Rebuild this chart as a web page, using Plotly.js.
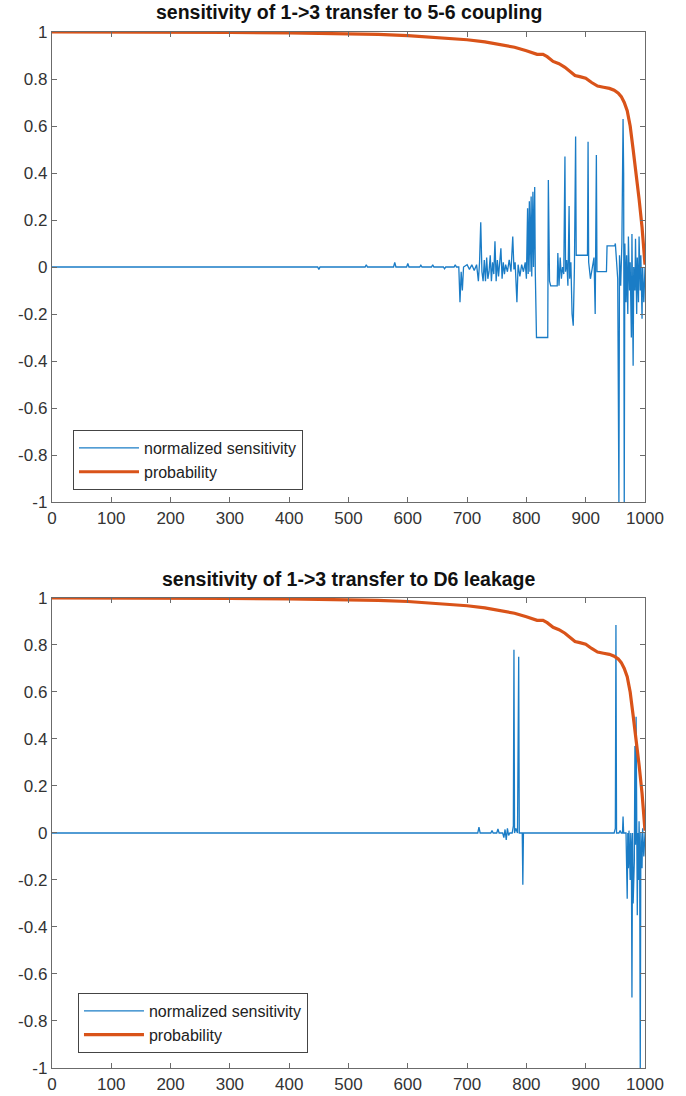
<!DOCTYPE html>
<html>
<head>
<meta charset="utf-8">
<script src="https://cdn.plot.ly/plotly-3.0.1.min.js"></script>
<style>html,body{margin:0;padding:0;background:#fff;}#chart{width:686px;height:1096px;}</style>
</head>
<body>
<div id="chart"></div>
<script>
// ---- data ----
const titleTop = 'sensitivity of 1-&gt;3 transfer to 5-6 coupling';
const titleBottom = 'sensitivity of 1-&gt;3 transfer to D6 leakage';
const seriesNames = ['normalized sensitivity', 'probability'];

const xTicks = [0,100,200,300,400,500,600,700,800,900,1000];
const xTickLabels = ['0','100','200','300','400','500','600','700','800','900','1000'];
const yTicks = [-1,-0.8,-0.6,-0.4,-0.2,0,0.2,0.4,0.6,0.8,1];
const yTickLabels = ['-1','-0.8','-0.6','-0.4','-0.2','0','0.2','0.4','0.6','0.8','1'];

// probability (same curve in both panels)
const probX = [0,100,200,300,400,500,550,600,650,700,730,760,780,800,810,818,828,835,845,855,865,875,882,890,900,910,920,930,940,948,955,960,965,970,975,980,985,990,995,1000];
const probY = [1,1,0.999,0.998,0.996,0.993,0.99,0.985,0.977,0.967,0.958,0.945,0.935,0.92,0.91,0.905,0.905,0.895,0.875,0.865,0.85,0.83,0.815,0.81,0.803,0.785,0.77,0.765,0.76,0.752,0.74,0.725,0.70,0.665,0.60,0.50,0.40,0.29,0.17,0.01];

// normalized sensitivity, top panel (5-6 coupling)
const sensTopX = [0,448,450,452,528,530,532,576,578,580,598,600,602,620,622,624,640,642,644,660,662,664,678,680,682,686,688,690,692,694,700,704,708,712,716,719,721,723,725,727,729,731,733,735,737,739,741,743,745,747,749,751,753,755,757,759,761,763,765,768,771,774,777,779,781,784,786,789,792,795,798,800,802,803,805,806,808,809,811,812,814,815,817,836,837,839,841,852,853,855,857,859,861,863,865,866,868,870,872,873,875,877,879,881,883,884,903,904,905,908,911,914,916,918,919,935,936,949,950,952,954,956,957,959,961,963,964,965,966,968,969,971,972,974,975,977,978,980,981,983,984,986,987,989,990,992,993,995,996,998,1000];
const sensTopY = [0,0,-0.01,0,0,0.01,0,0,0.02,0,0,0.015,0,0,0.008,0,0,0.01,0,0,-0.008,0,0,0.01,0,0,-0.15,-0.02,-0.1,0,0.01,-0.01,0.01,-0.015,0.01,-0.06,0.02,0.19,-0.02,-0.06,0.03,-0.06,0.04,-0.05,-0.02,0.05,-0.06,0.02,-0.03,0.11,-0.06,0.03,-0.04,0.01,0.08,-0.05,0.02,-0.03,0.01,-0.02,0.03,-0.02,0.13,-0.01,0.02,-0.15,0.01,-0.04,0.01,-0.02,0.02,-0.05,0.25,-0.03,0.28,-0.02,0.3,-0.04,0.32,0,0.34,-0.02,-0.3,-0.3,0.37,-0.06,-0.08,-0.08,0.06,-0.08,0.04,-0.05,0,-0.03,0.47,-0.02,0.03,-0.08,0.26,-0.05,0.02,-0.2,-0.25,0,0.555,0.05,0.05,0.533,0.02,-0.05,0,0.04,-0.2,0.477,-0.02,-0.02,0.09,0.09,0.1,0,-0.05,-1,0.05,-0.08,0.1,0.63,0.4,-1,0.1,-0.15,0.05,-0.2,0.13,-0.1,0.02,-0.3,0.14,-0.42,0,-0.1,0.12,-0.2,0.04,-0.15,0.13,-0.1,0.05,-0.22,0,-0.15,0];

// normalized sensitivity, bottom panel (D6 leakage)
const sensBotX = [0,718,720,722,740,742,744,750,752,754,760,762,764,766,768,770,772,776,778,779,780,782,785,787,788,790,793,794,795,948,950,951,952,956,958,960,962,963,964,968,969,970,971,972,973,975,976,977,978,979,980,982,983,984,985,986,987,988,989,990,991,992,993,995,996,998,1000];
const sensBotY = [0,0,0.025,0,0,0.01,0,0,0.017,0,0,-0.02,0.015,-0.03,0.02,-0.01,0,0,0.03,0.78,0,0.02,0,0.75,0,0,0,-0.22,0,0,0.02,0.885,0,0,0.01,0,0,0.07,0,0,-0.1,-0.28,0,-0.15,0.01,-0.2,0,-0.05,-0.7,0,-0.3,-0.12,0.37,-0.05,0.495,-0.1,-0.35,0,-0.2,0.05,-0.1,-1,0,-0.15,0.02,-0.1,0];

// ---- styling ----
const blue = '#1a7cc6';
const orange = '#D95319';
const axisColor = '#6b6b6b';
const textColor = '#333333';

const traces = [
  {x: sensTopX, y: sensTopY, type: 'scatter', mode: 'lines', name: seriesNames[0],
   line: {color: blue, width: 1.3}, xaxis: 'x', yaxis: 'y', legend: 'legend'},
  {x: probX, y: probY, type: 'scatter', mode: 'lines', name: seriesNames[1],
   line: {color: orange, width: 3.2}, xaxis: 'x', yaxis: 'y', legend: 'legend'},
  {x: sensBotX, y: sensBotY, type: 'scatter', mode: 'lines', name: seriesNames[0],
   line: {color: blue, width: 1.3}, xaxis: 'x2', yaxis: 'y2', legend: 'legend2'},
  {x: probX, y: probY, type: 'scatter', mode: 'lines', name: seriesNames[1],
   line: {color: orange, width: 3.2}, xaxis: 'x2', yaxis: 'y2', legend: 'legend2'}
];

function xAxis(anchor) {
  return {anchor: anchor, domain: [0, 1], range: [0, 1000], tickmode: 'array',
    tickvals: xTicks, ticktext: xTickLabels, ticks: 'inside', ticklen: 5, tickwidth: 1,
    tickcolor: axisColor, showline: true, linecolor: axisColor, linewidth: 1.2,
    mirror: 'ticks', showgrid: false, zeroline: false, fixedrange: true,
    tickfont: {size: 17, color: textColor}};
}
function yAxis(anchor, domain) {
  return {anchor: anchor, domain: domain, range: [-1, 1], tickmode: 'array',
    tickvals: yTicks, ticktext: yTickLabels, ticks: 'inside', ticklen: 5, tickwidth: 1,
    tickcolor: axisColor, showline: true, linecolor: axisColor, linewidth: 1.2,
    mirror: 'ticks', showgrid: false, zeroline: false, fixedrange: true,
    tickfont: {size: 17, color: textColor}};
}
function legendBox(x, y) {
  return {x: x, y: y, xref: 'paper', yref: 'paper', xanchor: 'left', yanchor: 'top',
    bgcolor: 'white', bordercolor: '#444', borderwidth: 1,
    font: {size: 16, color: '#222', family: 'Liberation Sans, Arial, sans-serif'},
    itemwidth: 60, tracegroupgap: 0};
}

const layout = {
  width: 686, height: 1096,
  margin: {l: 52, r: 41, t: 32, b: 28},
  paper_bgcolor: 'white', plot_bgcolor: 'white',
  font: {family: 'Liberation Sans, Arial, sans-serif', size: 17, color: textColor},
  showlegend: true,
  xaxis: xAxis('y'),
  yaxis: yAxis('x', [0.5463, 1]),
  xaxis2: xAxis('y2'),
  yaxis2: yAxis('x2', [0, 0.4537]),
  legend: legendBox(0.0354, 0.6158),
  legend2: legendBox(0.0438, 0.0724),
  annotations: [
    {text: '<b>' + titleTop + '</b>', xref: 'paper', yref: 'paper', x: 0.5, y: 1.0193,
     xanchor: 'center', yanchor: 'middle', showarrow: false,
     font: {size: 19.5, color: '#111', family: 'Liberation Sans, Arial, sans-serif'}},
    {text: '<b>' + titleBottom + '</b>', xref: 'paper', yref: 'paper', x: 0.5, y: 0.472,
     xanchor: 'center', yanchor: 'middle', showarrow: false,
     font: {size: 19.5, color: '#111', family: 'Liberation Sans, Arial, sans-serif'}}
  ]
};

Plotly.newPlot('chart', traces, layout, {displayModeBar: false, staticPlot: true});
</script>
</body>
</html>
